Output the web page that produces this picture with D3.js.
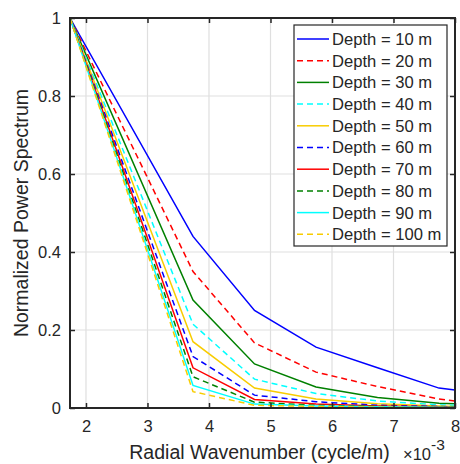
<!DOCTYPE html>
<html><head><meta charset="utf-8">
<script src="https://cdn.jsdelivr.net/npm/d3@7"></script>
<style>body{margin:0;background:#fff;} text{font-family:"Liberation Sans",Arial,sans-serif;fill:#262626;}</style>
</head><body>
<svg id="c" width="460" height="464"></svg>
<script>
const wavenumbers = [1.74, 3.74, 4.74, 5.74, 6.74, 7.74, 8.0];
const depth10  = [1, 0.44, 0.25, 0.156, 0.103, 0.051, 0.046];
const depth20  = [1, 0.35, 0.167, 0.092, 0.055, 0.023, 0.018];
const depth30  = [1, 0.277, 0.113, 0.054, 0.027, 0.012, 0.011];
const depth40  = [1, 0.215, 0.074, 0.037, 0.018, 0.008, 0.007];
const depth50  = [1, 0.17, 0.051, 0.023, 0.011, 0.005, 0.004];
const depth60  = [1, 0.132, 0.033, 0.016, 0.007, 0.004, 0.003];
const depth70  = [1, 0.103, 0.022, 0.010, 0.005, 0.003, 0.002];
const depth80  = [1, 0.08, 0.015, 0.007, 0.004, 0.002, 0.002];
const depth90  = [1, 0.058, 0.010, 0.005, 0.003, 0.002, 0.001];
const depth100 = [1, 0.042, 0.007, 0.004, 0.002, 0.001, 0.001];
const seriesNames = ["Depth = 10 m","Depth = 20 m","Depth = 30 m","Depth = 40 m","Depth = 50 m","Depth = 60 m","Depth = 70 m","Depth = 80 m","Depth = 90 m","Depth = 100 m"];
const seriesValues = [depth10,depth20,depth30,depth40,depth50,depth60,depth70,depth80,depth90,depth100];
const seriesColors = ["#0000ff","#ff0000","#008000","#00ffff","#f8cc00","#0000ff","#ff0000","#008000","#00ffff","#f8cc00"];
const seriesDashed = [false,true,false,true,false,true,false,true,false,true];
const xTicks = [2,3,4,5,6,7,8];
const yTicks = [0,0.2,0.4,0.6,0.8,1];

const L=70, R=455, T=18, B=408;
const svg = d3.select("#c");
const x = d3.scaleLinear().domain([1.74, 8]).range([L, R]);
const y = d3.scaleLinear().domain([0, 1]).range([B, T]);

// grid
const g = svg.append("g");
g.selectAll(".gx").data(xTicks.filter(t=>t<8)).enter().append("line")
  .attr("x1",d=>x(d)).attr("x2",d=>x(d)).attr("y1",T).attr("y2",B)
  .attr("stroke","#dfdfdf").attr("stroke-width",1.2);
g.selectAll(".gy").data(yTicks.filter(t=>t>0&&t<1)).enter().append("line")
  .attr("y1",d=>y(d)).attr("y2",d=>y(d)).attr("x1",L).attr("x2",R)
  .attr("stroke","#dfdfdf").attr("stroke-width",1.2);

svg.append("clipPath").attr("id","clip").append("rect").attr("x",L).attr("y",T-1).attr("width",R-L).attr("height",B-T+2);

const line = d3.line().x((d,i)=>x(wavenumbers[i])).y(d=>y(d));
const lines = svg.append("g").attr("clip-path","url(#clip)");
seriesValues.forEach((vals,k)=>{
  lines.append("path").attr("d",line(vals)).attr("fill","none")
    .attr("stroke",seriesColors[k]).attr("stroke-width",1.5)
    .attr("stroke-dasharray",seriesDashed[k]?"6,4":null);
});

// axes
const axB = d3.axisBottom(x).tickValues(xTicks).tickFormat(d3.format("d")).tickSizeInner(-5).tickSizeOuter(0).tickPadding(12);
const axT = d3.axisTop(x).tickValues(xTicks).tickFormat("").tickSizeInner(-5).tickSizeOuter(0);
const axL = d3.axisLeft(y).tickValues(yTicks).tickFormat(d=>d===0?"0":d===1?"1":d3.format(".1f")(d)).tickSizeInner(-5).tickSizeOuter(0).tickPadding(9);
const axR = d3.axisRight(y).tickValues(yTicks).tickFormat("").tickSizeInner(-5).tickSizeOuter(0);
function style(sel){
  sel.select(".domain").remove();
  sel.selectAll("line").attr("stroke","#262626").attr("stroke-width",1.5);
  sel.selectAll("text").attr("font-size","16.5px").attr("fill","#262626").attr("font-family","Liberation Sans, Arial, sans-serif");
}
svg.append("g").attr("transform",`translate(0,${B})`).call(axB).call(style);
svg.append("g").attr("transform",`translate(0,${T})`).call(axT).call(style);
svg.append("g").attr("transform",`translate(${L},0)`).call(axL).call(style);
svg.append("g").attr("transform",`translate(${R},0)`).call(axR).call(style);
svg.append("rect").attr("x",L).attr("y",T).attr("width",R-L).attr("height",B-T)
  .attr("fill","none").attr("stroke","#262626").attr("stroke-width",2);

// labels
svg.append("text").attr("x",(L+R)/2-3).attr("y",459).attr("text-anchor","middle")
  .attr("font-size","19.5px").text("Radial Wavenumber (cycle/m)");
const ex = svg.append("text").attr("x",403).attr("y",460).attr("font-size","16.5px");
ex.append("tspan").text("×10");
ex.append("tspan").attr("dy",-10).attr("font-size","15.5px").text("-3");
svg.append("text").attr("transform",`translate(28,${(T+B)/2}) rotate(-90)`).attr("text-anchor","middle")
  .attr("font-size","19.5px").text("Normalized Power Spectrum");

// legend
const lg = svg.append("g");
const lx=294, ly=25, lw=153, lh=221, rowH=21.7;
lg.append("rect").attr("x",lx).attr("y",ly).attr("width",lw).attr("height",lh)
  .attr("fill","#fff").attr("stroke","#262626").attr("stroke-width",1.2);
seriesNames.forEach((n,k)=>{
  const cy = ly+14+k*rowH;
  lg.append("line").attr("x1",lx+3).attr("x2",lx+35).attr("y1",cy).attr("y2",cy)
    .attr("stroke",seriesColors[k]).attr("stroke-width",1.5)
    .attr("stroke-dasharray",seriesDashed[k]?"6,4":null);
  lg.append("text").attr("x",lx+38).attr("y",cy).attr("dy","0.36em").attr("font-size","16.6px").text(n);
});
</script>
</body></html>
